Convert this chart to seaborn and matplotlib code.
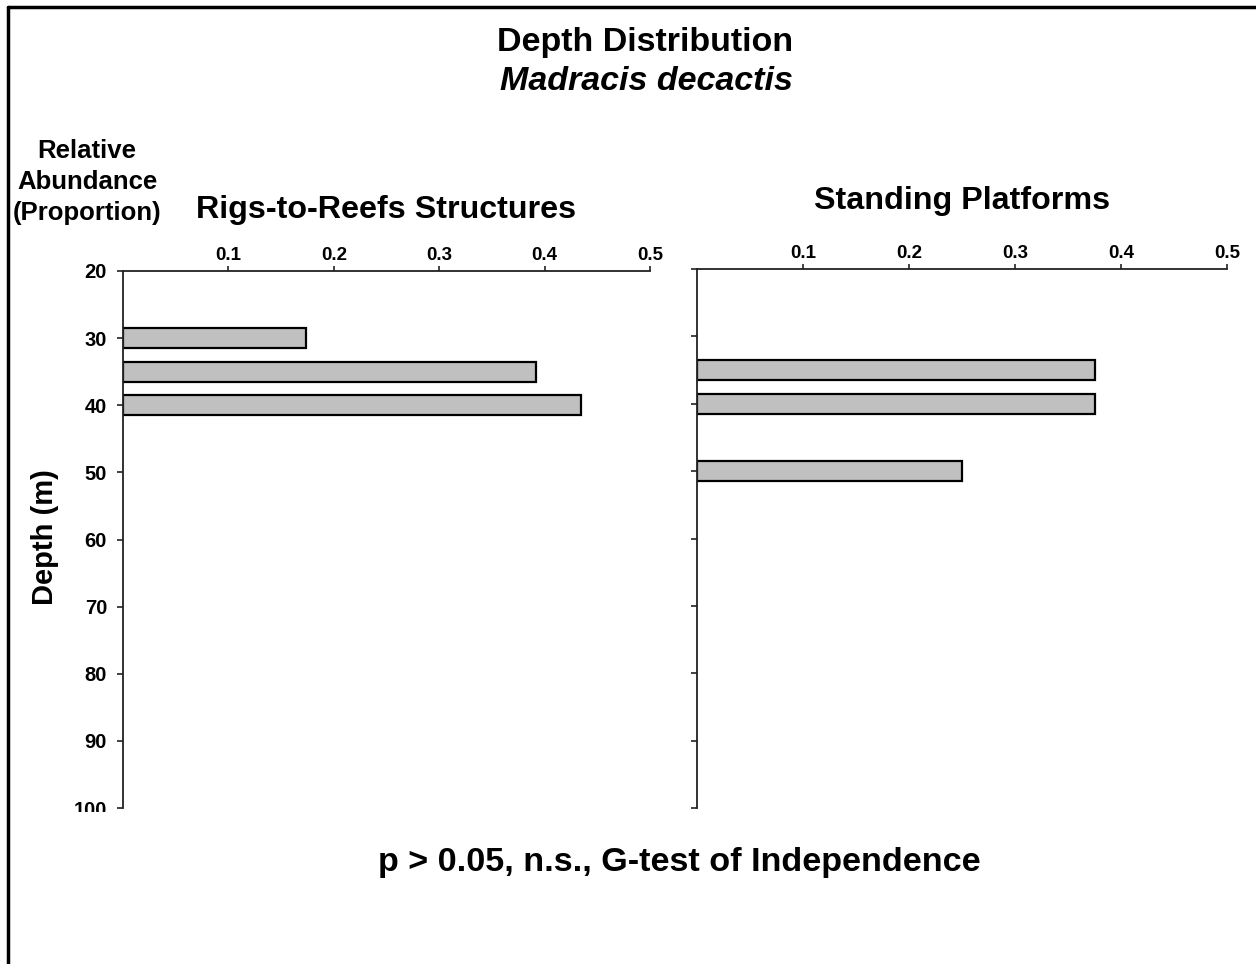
import matplotlib
matplotlib.use("Agg")
import matplotlib.pyplot as plt
from matplotlib.lines import Line2D
from matplotlib.transforms import Bbox
import seaborn as sns
import pandas as pd

# Relative abundance (proportion) by depth (m)
rigs_depth = [30, 35, 40]
rigs_prop = [0.174, 0.392, 0.435]
platform_depth = [35, 40, 50]
platform_prop = [0.375, 0.375, 0.25]

depth_ticks = [20, 30, 40, 50, 60, 70, 80, 90, 100]
prop_ticks = [0.1, 0.2, 0.3, 0.4, 0.5]
prop_ticklabels = ["0.1", "0.2", "0.3", "0.4", "0.5"]

panel_titles = ["Rigs-to-Reefs Structures", "Standing Platforms"]

sns.set_style("white")
plt.rcParams["font.family"] = ["Liberation Sans", "DejaVu Sans"]
plt.rcParams["text.color"] = "black"

W, H = 1256, 964
fig = plt.figure(figsize=(W / 100, H / 100), dpi=100)
fig.patch.set_facecolor("white")

def fx(px):
    return px / W

def fy(py):
    return 1 - py / H

ax_l = fig.add_axes([fx(123), fy(808), fx(650) - fx(123), fy(271) - fy(808)])
ax_r = fig.add_axes([fx(697), fy(808), fx(1227) - fx(697), fy(269) - fy(808)])

frames = [
    pd.DataFrame({"depth": rigs_depth, "prop": rigs_prop}),
    pd.DataFrame({"depth": platform_depth, "prop": platform_prop}),
]

for i, (ax, df) in enumerate(zip([ax_l, ax_r], frames)):
    sns.barplot(data=df, x="prop", y="depth", orient="y", native_scale=True,
                width=0.6, color="#C0C0C0", saturation=1, edgecolor="black",
                linewidth=1.6, ax=ax)
    ax.set_xlim(0, 0.5)
    ax.set_ylim(100, 20)
    ax.set_xticks(prop_ticks)
    ax.set_yticks(depth_ticks)
    ax.xaxis.tick_top()
    ax.set_xlabel("")
    ax.set_ylabel("")
    for side in ["right", "bottom"]:
        ax.spines[side].set_visible(False)
    for side in ["left", "top"]:
        ax.spines[side].set_visible(True)
        ax.spines[side].set_color("#222222")
        ax.spines[side].set_linewidth(1.3)
    ax.tick_params(axis="x", top=True, bottom=False, direction="out",
                   length=3.5, width=1.2, color="#222222", labelcolor="black",
                   pad=1.5)
    ax.tick_params(axis="y", left=True, right=False, direction="out",
                   length=4.5, width=1.2, color="#222222", labelcolor="black",
                   pad=7)
    ax.set_xticklabels(prop_ticklabels, fontsize=13.5, fontweight="bold")
    if i == 0:
        ax.set_yticklabels([str(d) for d in depth_ticks], fontsize=14.5,
                           fontweight="bold")
    else:
        ax.set_yticklabels([])
    ax.set_facecolor("white")

# the deepest label is cut by the lower edge of the plotting frame
last = ax_l.get_yticklabels()[-1]
last.set_clip_box(Bbox.from_extents(0, H - 812, W, H))
last.set_clip_on(True)

fig.text(fx(645), fy(43), "Depth Distribution", ha="center", va="center",
         fontsize=24.5, fontweight="bold")
fig.text(fx(646), fy(81), "Madracis decactis", ha="center", va="center",
         fontsize=24.5, fontweight="bold", fontstyle="italic")

fig.text(fx(386), fy(210), panel_titles[0], ha="center", va="center",
         fontsize=23.2, fontweight="bold")
fig.text(fx(962), fy(201), panel_titles[1], ha="center", va="center",
         fontsize=23.2, fontweight="bold")

fig.text(fx(87), fy(182), "Relative\nAbundance\n(Proportion)", ha="center",
         va="center", fontsize=18.5, fontweight="bold", linespacing=1.38)

fig.text(fx(45), fy(537), "Depth (m)", ha="center", va="center",
         rotation=90, fontsize=21, fontweight="bold")

fig.text(fx(679), fy(863), "p > 0.05, n.s., G-test of Independence",
         ha="center", va="center", fontsize=24.6, fontweight="bold")

# outer frame along the top and left edges
fig.add_artist(Line2D([fx(8), 1], [fy(7), fy(7)], color="black", lw=2.5,
                      transform=fig.transFigure))
fig.add_artist(Line2D([fx(8), fx(8)], [0, fy(7)], color="black", lw=2.5,
                      transform=fig.transFigure))

fig.savefig("out.png", dpi=100, facecolor="white")
